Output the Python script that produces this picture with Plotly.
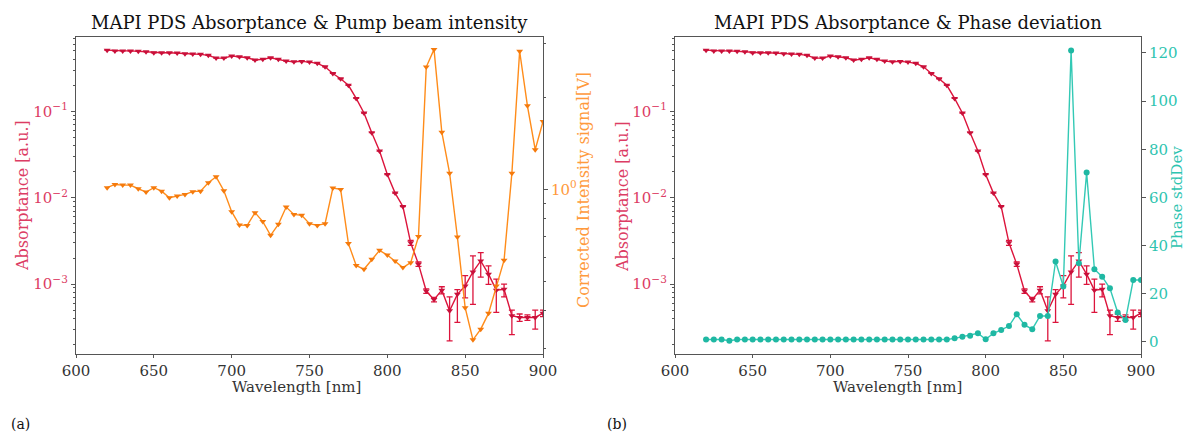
import plotly.graph_objects as go

# ---------------- data ----------------
wavelength = [620, 625, 630, 635, 640, 645, 650, 655, 660, 665, 670, 675, 680, 685, 690,
              695, 700, 705, 710, 715, 720, 725, 730, 735, 740, 745, 750, 755, 760, 765,
              770, 775, 780, 785, 790, 795, 800, 805, 810, 815, 820, 825, 830, 835, 840,
              845, 850, 855, 860, 865, 870, 875, 880, 885, 890, 895, 900]

absorptance = [0.51, 0.50, 0.50, 0.50, 0.495, 0.49, 0.476, 0.476, 0.476, 0.473, 0.464, 0.46,
               0.456, 0.444, 0.413, 0.413, 0.436, 0.428, 0.417, 0.392, 0.399, 0.417, 0.399,
               0.381, 0.375, 0.378, 0.371, 0.359, 0.327, 0.274, 0.238, 0.200, 0.141, 0.0955,
               0.0565, 0.0346, 0.0185, 0.0113, 0.0079, 0.0030, 0.0017, 0.00083, 0.00066,
               0.00085, 0.00049, 0.00076, 0.00095, 0.00138, 0.00185, 0.0013, 0.00085,
               0.00087, 0.00043, 0.00041, 0.00041, 0.00041, 0.00046]

abs_err_plus = [0] * 39 + [0.0002, 0.0001, 0.00005, 0.00004, 0.00008, 0.00022, 0.0001, 0.0003,
                           0.00074, 0.00046, 0.00032, 0.00029, 0.00013, 0.00007, 0.00004,
                           0.00003, 0.00009, 0.00004]
abs_err_minus = [0] * 39 + [0.0002, 0.0001, 0.00005, 0.00004, 0.00008, 0.00027, 0.0004, 0.00026,
                            0.0008, 0.00065, 0.00031, 0.00038, 0.00016, 0.00017, 0.00004,
                            0.00003, 0.00011, 0.00004]

intensity = [1.013, 1.038, 1.033, 1.033, 1.005, 0.980, 1.013, 0.987, 0.939, 0.951, 0.963,
             0.983, 0.987, 1.052, 1.100, 0.99, 0.845, 0.764, 0.762, 0.839, 0.784, 0.707,
             0.768, 0.875, 0.828, 0.822, 0.772, 0.762, 0.772, 1.01, 1.00, 0.664, 0.563,
             0.547, 0.590, 0.631, 0.609, 0.582, 0.554, 0.575, 0.700, 2.52, 2.88, 1.54, 1.13,
             0.698, 0.409, 0.321, 0.348, 0.392, 0.482, 0.586, 1.13, 2.84, 1.88, 1.35, 1.67]

phase_std = [1.0, 1.0, 1.0, 0.5, 1.0, 1.0, 1.0, 1.0, 1.0, 1.0, 1.0, 1.0, 1.0, 1.0, 1.0, 1.0,
             1.0, 1.0, 1.0, 1.0, 1.0, 1.0, 1.0, 1.0, 1.0, 1.0, 1.0, 1.0, 1.0, 1.0, 1.0, 1.0,
             1.5, 2.2, 2.6, 3.6, 1.1, 3.6, 5.0, 6.6, 11.5, 7.1, 5.3, 10.8, 10.8, 33.4, 23.0,
             121, 32.7, 70.3, 30.2, 27.1, 22.3, 12.2, 9.1, 25.7, 25.7]

x_ticks = [600, 650, 700, 750, 800, 850, 900]
abs_ticks = [0.001, 0.01, 0.1]
abs_tick_text = ["10<sup>−3</sup>", "10<sup>−2</sup>", "10<sup>−1</sup>"]
int_ticks = [1]
int_tick_text = ["10<sup>0</sup>"]
phase_ticks = [0, 20, 40, 60, 80, 100, 120]

# ---------------- style ----------------
OFF = 8                      # page body margin
W, H = 1192 - OFF, 433 - OFF  # figure size so it fits the window
FONT = "DejaVu Serif"
RED_LINE = "#dc143c"
RED_MARK = "#c8103a"
RED_TXT = "#dc3c64"
ORANGE = "#ff8c1a"
ORANGE_MARK = "#f57a0c"
ORANGE_TXT = "#ff9a3c"
TEAL = "#33c9b5"
TEAL_MARK = "#1fb8a3"
TEAL_TXT = "#2ec4b0"
SPINE = "#555555"


def px_x(p):
    return (p - OFF) / W


def px_y(p):
    return 1 - (p - OFF) / H


xl_dom = [px_x(76), px_x(543)]
xr_dom = [px_x(675), px_x(1141)]
y_dom = [px_y(354), px_y(37)]

abs_minor = [m * 10 ** e for e in (-4, -3, -2, -1) for m in range(2, 10)
             if 10 ** -3.81 < m * 10 ** e < 10 ** -0.14]
int_minor = [0.3, 0.4, 0.5, 0.6, 0.7, 0.8, 0.9, 2, 3]

fig = go.Figure()

err = dict(type="data", symmetric=False, array=abs_err_plus, arrayminus=abs_err_minus,
           color=RED_LINE, thickness=1.3, width=3)

# Left: absorptance
fig.add_trace(go.Scatter(x=wavelength, y=absorptance, mode="lines+markers",
                         line=dict(color=RED_LINE, width=1.4),
                         marker=dict(symbol="triangle-down", size=6, color=RED_MARK),
                         error_y=err, xaxis="x", yaxis="y", showlegend=False))
# Left: intensity
fig.add_trace(go.Scatter(x=wavelength, y=intensity, mode="lines+markers",
                         line=dict(color=ORANGE, width=1.4),
                         marker=dict(symbol="triangle-down", size=6, color=ORANGE_MARK),
                         xaxis="x", yaxis="y2", showlegend=False))
# Right: absorptance
fig.add_trace(go.Scatter(x=wavelength, y=absorptance, mode="lines+markers",
                         line=dict(color=RED_LINE, width=1.4),
                         marker=dict(symbol="triangle-down", size=6, color=RED_MARK),
                         error_y=err, xaxis="x2", yaxis="y3", showlegend=False))
# Right: phase std
fig.add_trace(go.Scatter(x=wavelength, y=phase_std, mode="lines+markers",
                         line=dict(color=TEAL, width=1.4),
                         marker=dict(symbol="circle", size=6, color=TEAL_MARK),
                         xaxis="x2", yaxis="y4", showlegend=False))

xcommon = dict(range=[600, 900], tickvals=x_ticks, ticks="outside", ticklen=3,
               tickcolor=SPINE, showline=True, linecolor=SPINE, linewidth=1.3,
               mirror=True, showgrid=False, zeroline=False, automargin=False,
               tickfont=dict(family=FONT, size=15, color="#333333"))

ycommon_abs = dict(type="log", range=[-3.81, -0.14], tickvals=abs_ticks, ticktext=abs_tick_text,
                   ticks="outside", ticklen=4, tickcolor=SPINE, showline=True, linecolor=SPINE,
                   linewidth=1.3, mirror=True, showgrid=False, zeroline=False, automargin=False,
                   tickfont=dict(family=FONT, size=15, color=RED_TXT),
                   minor=dict(tickvals=abs_minor, ticks="outside", ticklen=2,
                              tickcolor=SPINE, showgrid=False),
                   domain=y_dom)

fig.update_layout(
    width=W, height=H,
    autosize=False,
    margin=dict(l=0, r=0, t=0, b=0, pad=0),
    paper_bgcolor="white", plot_bgcolor="white",
    font=dict(family=FONT),
    xaxis=dict(domain=xl_dom, anchor="y", **xcommon),
    yaxis=dict(anchor="x", **ycommon_abs),
    yaxis2=dict(type="log", overlaying="y", side="right", anchor="x",
                range=[-0.54, 0.50], tickvals=int_ticks, ticktext=int_tick_text,
                ticks="outside", ticklen=4, tickcolor=SPINE, showline=False,
                showgrid=False, zeroline=False, automargin=False,
                tickfont=dict(family=FONT, size=15, color=ORANGE_TXT),
                minor=dict(tickvals=int_minor, ticks="outside", ticklen=2,
                           tickcolor=SPINE, showgrid=False)),
    xaxis2=dict(domain=xr_dom, anchor="y3", **xcommon),
    yaxis3=dict(anchor="x2", **ycommon_abs),
    yaxis4=dict(overlaying="y3", side="right", anchor="x2", range=[-5, 126.6],
                tickvals=phase_ticks, ticks="outside", ticklen=4, tickcolor=SPINE,
                showline=False, showgrid=False, zeroline=False, automargin=False,
                tickfont=dict(family=FONT, size=15, color=TEAL_TXT)),
)

ann = []


def add_text(text, x, y, size, color, angle=0):
    ann.append(dict(text=text, x=px_x(x), y=px_y(y), xref="paper", yref="paper",
                    showarrow=False, textangle=angle, xanchor="center", yanchor="middle",
                    font=dict(family=FONT, size=size, color=color)))


add_text("MAPI PDS Absorptance &amp; Pump beam intensity", 309, 22, 18, "#111111")
add_text("MAPI PDS Absorptance &amp; Phase deviation", 908, 22, 18, "#111111")
add_text("Wavelength [nm]", 296, 387, 15, "#333333")
add_text("Wavelength [nm]", 897, 387, 15, "#333333")
add_text("Absorptance [a.u.]", 22, 196, 16, RED_TXT, -90)
add_text("Corrected Intensity signal[V]", 583, 190, 16, ORANGE_TXT, -90)
add_text("Absorptance [a.u.]", 622, 196, 16, RED_TXT, -90)
add_text("Phase stdDev", 1177, 198, 15, TEAL_TXT, -90)
add_text("(a)", 20, 424, 14, "#111111")
add_text("(b)", 617, 424, 14, "#111111")

fig.update_layout(annotations=ann)

fig.write_html("out.html")
